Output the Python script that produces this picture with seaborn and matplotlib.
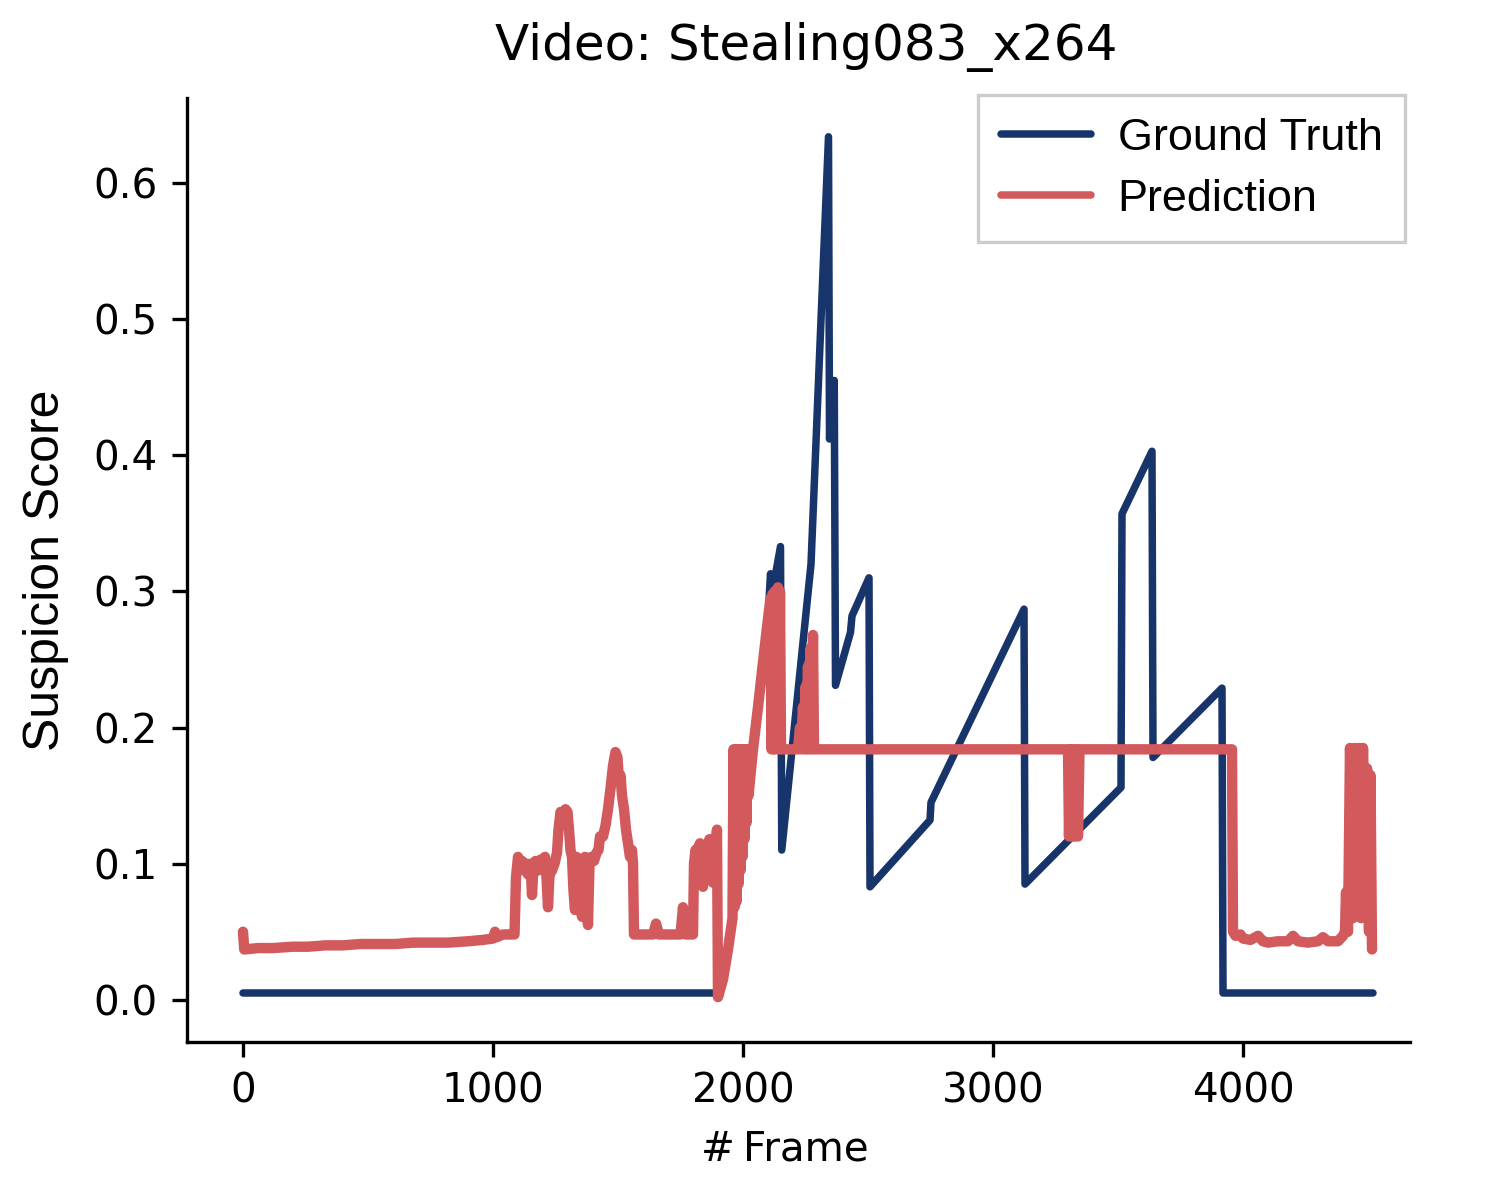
import numpy as np
import pandas as pd
import matplotlib
matplotlib.use("Agg")
import matplotlib.pyplot as plt
import seaborn as sns

# ground truth (frame, score) breakpoints
gt_frame = [0, 1900, 1940, 1980, 2020, 2040, 2060, 2080, 2100, 2110, 2118, 2150, 2155, 2272,
            2342, 2346, 2365, 2370, 2430, 2436, 2504, 2508, 2748, 2752, 3124,
            3128, 3512, 3516, 3636, 3640, 3916, 3920, 4520]
gt_score = [0.005, 0.005, 0.037, 0.088, 0.145, 0.184, 0.215, 0.248, 0.280, 0.313, 0.300, 0.333,
            0.110, 0.320,
            0.634, 0.412, 0.455, 0.231, 0.270, 0.282, 0.310, 0.083, 0.132, 0.145, 0.287,
            0.085, 0.156, 0.357, 0.403, 0.178, 0.229, 0.005, 0.005]

# prediction (frame, score) points
pred_frame = [0, 5, 60, 120, 200, 260, 330, 400, 470, 540, 610, 680, 750, 820, 900,
              960, 1000, 1008, 1015, 1040, 1086,
              1092, 1100, 1108, 1116, 1124, 1132, 1140, 1150, 1156, 1162, 1170, 1180,
              1190, 1200, 1208, 1214, 1220, 1226, 1236, 1246, 1256, 1262, 1270, 1280,
              1290, 1298, 1304, 1310, 1316, 1322, 1328, 1334, 1342, 1348, 1356, 1362,
              1368, 1374, 1380, 1386, 1394, 1404, 1414, 1422, 1428, 1440, 1450, 1460,
              1470, 1480, 1490, 1498, 1504, 1510, 1516, 1524, 1532, 1540, 1548, 1556,
              1560, 1564, 1640, 1652, 1664, 1750, 1760, 1770,
              1800, 1804, 1810, 1816, 1822, 1828, 1834, 1840, 1846, 1854, 1860, 1866,
              1872, 1880, 1888, 1896, 1900,
              1920, 1940, 1958, 1962, 1966, 1970, 1974, 1978, 1982, 1986, 1990, 1994,
              1998, 2002, 2006, 2010, 2014, 2018, 2022, 2030, 2040, 2060, 2080, 2100, 2110,
              2114, 2118, 2122, 2126, 2130, 2134, 2140, 2144, 2148, 2152,
              2220, 2228, 2232, 2240, 2244, 2250, 2254, 2260, 2264, 2270, 2274,
              2280, 2284,
              3300, 3304, 3310, 3316, 3322, 3328, 3334, 3340, 3346,
              3956, 3960, 3970, 3990, 4000, 4030, 4060, 4080, 4100, 4140, 4180,
              4200, 4220, 4260, 4300, 4320, 4340, 4380, 4400, 4408, 4412, 4420,
              4428, 4440, 4448, 4456, 4464, 4472, 4480, 4490, 4496, 4504, 4510, 4516]
pred_score = [0.050, 0.037, 0.038, 0.038, 0.039, 0.039, 0.040, 0.040, 0.041, 0.041, 0.041,
              0.042, 0.042, 0.042, 0.043, 0.044, 0.045, 0.050, 0.046, 0.048, 0.048,
              0.090, 0.105, 0.098, 0.102, 0.095, 0.100, 0.092, 0.100, 0.077, 0.098, 0.102, 0.095,
              0.103, 0.098, 0.105, 0.090, 0.068, 0.092, 0.095, 0.100, 0.108, 0.125, 0.138, 0.135,
              0.140, 0.138, 0.125, 0.110, 0.105, 0.080, 0.066, 0.105, 0.095, 0.075, 0.061, 0.090,
              0.105, 0.080, 0.055, 0.100, 0.105, 0.102, 0.108, 0.110, 0.120, 0.120, 0.128, 0.140,
              0.155, 0.172, 0.182, 0.178, 0.160, 0.165, 0.150, 0.140, 0.125, 0.115, 0.105, 0.110,
              0.100, 0.048, 0.048, 0.056, 0.048, 0.048, 0.068, 0.048,
              0.048, 0.100, 0.110, 0.090, 0.112, 0.115, 0.090, 0.083, 0.105, 0.100, 0.115, 0.118,
              0.095, 0.086, 0.110, 0.125, 0.002,
              0.015, 0.037, 0.060, 0.184, 0.068, 0.184, 0.072, 0.184, 0.085, 0.184, 0.095, 0.184,
              0.105, 0.184, 0.118, 0.184, 0.130, 0.184, 0.150, 0.165, 0.184, 0.215, 0.248, 0.280,
              0.295,
              0.184, 0.298, 0.184, 0.300, 0.184, 0.300, 0.303, 0.184, 0.300, 0.184,
              0.184, 0.200, 0.184, 0.215, 0.184, 0.230, 0.184, 0.245, 0.184, 0.258, 0.184,
              0.268, 0.184,
              0.184, 0.120, 0.184, 0.120, 0.184, 0.120, 0.184, 0.120, 0.184,
              0.184, 0.050, 0.047, 0.048, 0.045, 0.044, 0.047, 0.043, 0.042, 0.043, 0.043,
              0.047, 0.043, 0.042, 0.043, 0.046, 0.043, 0.043, 0.047, 0.050, 0.079, 0.050,
              0.185, 0.060, 0.185, 0.070, 0.185, 0.060, 0.185, 0.070, 0.170, 0.050, 0.165, 0.037]

gt_df = pd.DataFrame({"frame": gt_frame, "score": gt_score})
pred_df = pd.DataFrame({"frame": pred_frame, "score": pred_score})

sns.set_style("ticks")
plt.rcParams["font.family"] = ["DejaVu Sans"]
plt.rcParams["text.color"] = "black"
plt.rcParams["axes.labelcolor"] = "black"
plt.rcParams["xtick.color"] = "black"
plt.rcParams["ytick.color"] = "black"

fig = plt.figure(figsize=(1487 / 300, 1179 / 300), dpi=300)
ax = fig.add_axes([187 / 1487, 1 - 1042 / 1179, (1410 - 187) / 1487, (1042 - 98) / 1179])

sns.lineplot(data=gt_df, x="frame", y="score", ax=ax, color="#17356a",
             linewidth=1.8, estimator=None, label="Ground Truth")
sns.lineplot(data=pred_df, x="frame", y="score", ax=ax, color="#d25a5d",
             linewidth=2.5, estimator=None, label="Prediction")

ax.set_xlim(-224, 4668)
ax.set_ylim(-0.031, 0.6625)
ax.set_xticks([0, 1000, 2000, 3000, 4000])
ax.set_yticks([0.0, 0.1, 0.2, 0.3, 0.4, 0.5, 0.6])
ax.tick_params(labelsize=9.7, width=0.8, length=3.5, colors="black")
for s in ["left", "bottom"]:
    ax.spines[s].set_color("black")
    ax.spines[s].set_linewidth(0.8)
sns.despine(ax=ax)

ax.set_title("Video: Stealing083_x264", fontsize=12, pad=9, x=0.506)
ax.set_xlabel("#\u2009Frame", fontsize=9.7, labelpad=4.5, x=0.489)
ax.set_ylabel("Suspicion Score", fontsize=12, family="Liberation Sans", labelpad=6)

leg = ax.legend(loc="upper right", bbox_to_anchor=(1405 / 1487, 1 - 95 / 1179),
                bbox_transform=fig.transFigure,
                prop={"family": "Liberation Sans", "size": 10.8},
                frameon=True, fancybox=False, handlelength=2.0, handletextpad=0.6,
                borderpad=0.5, labelspacing=0.45, borderaxespad=0, framealpha=1)
leg.get_frame().set_edgecolor("#cccccc")
leg.get_frame().set_linewidth(0.8)
for ln in leg.get_lines():
    ln.set_linewidth(1.8)

fig.savefig("out.png", dpi=300)
